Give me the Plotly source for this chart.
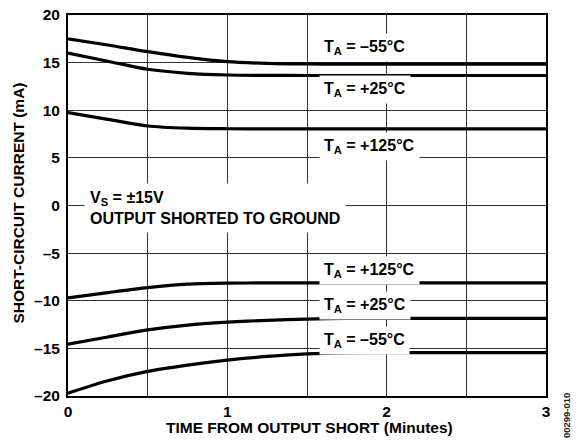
import plotly.graph_objects as go

time_min = [0, 0.25, 0.5, 0.75, 1.0, 1.25, 1.5, 1.75, 2.0, 2.5, 3.0]
src_m55 = [17.5, 16.85, 16.15, 15.55, 15.1, 14.92, 14.86, 14.85, 14.85, 14.85, 14.85]
src_p25 = [16.0, 15.15, 14.3, 13.88, 13.7, 13.66, 13.65, 13.65, 13.65, 13.65, 13.65]
src_p125 = [9.75, 9.05, 8.35, 8.12, 8.06, 8.05, 8.05, 8.05, 8.05, 8.05, 8.05]
snk_p125 = [-9.7, -9.15, -8.63, -8.26, -8.15, -8.13, -8.13, -8.13, -8.13, -8.13, -8.13]
snk_p25 = [-14.55, -13.8, -13.06, -12.55, -12.25, -12.05, -11.92, -11.86, -11.85, -11.85, -11.85]
snk_m55 = [-19.7, -18.4, -17.42, -16.76, -16.23, -15.85, -15.58, -15.47, -15.45, -15.45, -15.45]

labels = ["T<sub>A</sub> = –55°C", "T<sub>A</sub> = +25°C", "T<sub>A</sub> = +125°C",
          "T<sub>A</sub> = +125°C", "T<sub>A</sub> = +25°C", "T<sub>A</sub> = –55°C"]
label_y = [16.6, 12.15, 6.2, -6.85, -10.5, -14.2]
label_x = 1.576

ytick_vals = [20, 15, 10, 5, 0, -5, -10, -15, -20]
ytick_text = ["20", "15", "10", "5", "0", "–5", "–10", "–15", "–20"]
xtick_vals = [0, 0.5, 1, 1.5, 2, 2.5, 3]
xtick_text = ["0", "", "1", "", "2", "", "3"]

FONT = "Liberation Sans, Arial, sans-serif"
BOLD = dict(family=FONT, size=16, color="black", weight="bold")

fig = go.Figure()
for ys in [src_m55, src_p25, src_p125, snk_p125, snk_p25, snk_m55]:
    fig.add_trace(go.Scatter(x=time_min, y=ys, mode="lines",
                             line=dict(color="black", width=3.2, shape="spline", smoothing=0.8),
                             showlegend=False, hoverinfo="skip"))

for t, yv in zip(labels, label_y):
    fig.add_annotation(x=label_x, y=yv, xref="x", yref="y", text=t, showarrow=False,
                       xanchor="left", yanchor="middle", bgcolor="white", borderpad=4,
                       font=BOLD)

fig.add_annotation(x=0.1, y=-0.3, xref="x", yref="y",
                   text="V<sub>S</sub> = ±15V<br>OUTPUT SHORTED TO GROUND",
                   showarrow=False, xanchor="left", yanchor="middle", align="left",
                   bgcolor="white", borderpad=5, font=BOLD)

fig.add_annotation(x=0.506, y=-0.0814, xref="paper", yref="paper",
                   text="TIME FROM OUTPUT SHORT (Minutes)", showarrow=False,
                   xanchor="center", yanchor="middle",
                   font=dict(family=FONT, size=15.5, color="black", weight="bold"))
fig.add_annotation(x=-0.1025, y=0.505, xref="paper", yref="paper",
                   text="SHORT-CIRCUIT CURRENT (mA)", showarrow=False, textangle=-90,
                   xanchor="center", yanchor="middle",
                   font=dict(family=FONT, size=15.5, color="black", weight="bold"))
fig.add_annotation(x=1.042, y=-0.0525, xref="paper", yref="paper",
                   text="00299-010", showarrow=False, textangle=-90,
                   xanchor="center", yanchor="middle",
                   font=dict(family=FONT, size=9.5, color="#222"))

fig.update_layout(
    width=578, height=442,
    margin=dict(l=68, r=32, t=15, b=46, autoexpand=False),
    paper_bgcolor="white", plot_bgcolor="white",
    font=dict(family=FONT, size=15.5, color="black", weight="bold"),
    xaxis=dict(range=[0, 3], tickvals=xtick_vals, ticktext=xtick_text,
               showgrid=True, gridcolor="#333", gridwidth=1, zeroline=False,
               showline=True, linecolor="black", linewidth=2, mirror=True,
               ticks="", ticklen=0, ticklabelstandoff=0, automargin=False,
               ticklabeloverflow="allow", fixedrange=True),
    yaxis=dict(range=[-20, 20], tickvals=ytick_vals, ticktext=ytick_text,
               showgrid=True, gridcolor="#333", gridwidth=1, zeroline=False,
               showline=True, linecolor="black", linewidth=2, mirror=True,
               ticks="", ticklen=0, ticklabelstandoff=3, automargin=False,
               ticklabeloverflow="allow", fixedrange=True),
)

fig.write_html("out.html", config={"displayModeBar": False},
               post_script="document.body.style.margin='0';")
